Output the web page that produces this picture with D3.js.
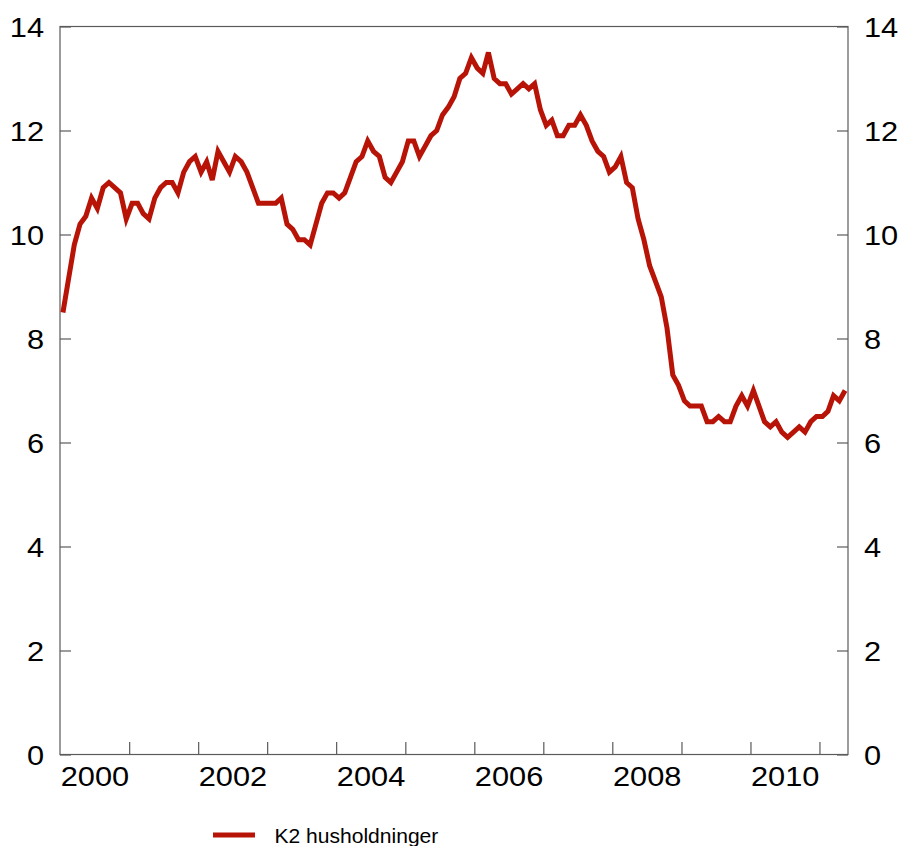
<!DOCTYPE html>
<html><head><meta charset="utf-8">
<script src="https://cdn.jsdelivr.net/npm/d3@7"></script>
<style>body{margin:0;background:#fff}svg{display:block}</style>
</head><body>
<svg id="c" width="901" height="846"></svg>
<script>
// ---- data ----
const seriesName = "K2 husholdninger";
const startMonth = "2000-01";           // first monthly observation
const values = [
  8.5, 9.15, 9.8, 10.2, 10.35, 10.7, 10.5, 10.9, 11.0, 10.9, 10.8, 10.3,          // 2000
  10.6, 10.6, 10.4, 10.3, 10.7, 10.9, 11.0, 11.0, 10.8, 11.2, 11.4, 11.5,         // 2001
  11.2, 11.4, 11.05, 11.6, 11.4, 11.2, 11.5, 11.4, 11.2, 10.9, 10.6, 10.6,        // 2002
  10.6, 10.6, 10.7, 10.2, 10.1, 9.9, 9.9, 9.8, 10.2, 10.6, 10.8, 10.8,            // 2003
  10.7, 10.8, 11.1, 11.4, 11.5, 11.8, 11.6, 11.5, 11.1, 11.0, 11.2, 11.4,         // 2004
  11.8, 11.8, 11.5, 11.7, 11.9, 12.0, 12.3, 12.45, 12.65, 13.0, 13.1, 13.4,       // 2005
  13.2, 13.1, 13.5, 13.0, 12.9, 12.9, 12.7, 12.8, 12.9, 12.8, 12.9, 12.4,         // 2006
  12.1, 12.2, 11.9, 11.9, 12.1, 12.1, 12.3, 12.1, 11.8, 11.6, 11.5, 11.2,         // 2007
  11.3, 11.5, 11.0, 10.9, 10.3, 9.9, 9.4, 9.1, 8.8, 8.2, 7.3, 7.1,                // 2008
  6.8, 6.7, 6.7, 6.7, 6.4, 6.4, 6.5, 6.4, 6.4, 6.7, 6.9, 6.7,                     // 2009
  7.0, 6.7, 6.4, 6.3, 6.4, 6.2, 6.1, 6.2, 6.3, 6.2, 6.4, 6.5,                     // 2010
  6.5, 6.6, 6.9, 6.8, 7.0                                                          // 2011
];
const yTicks = [0, 2, 4, 6, 8, 10, 12, 14];
const xLabelYears = [2000, 2002, 2004, 2006, 2008, 2010];
const xTickYears = [2001, 2002, 2003, 2004, 2005, 2006, 2007, 2008, 2009, 2010, 2011];
const xDomain = ["2000-01", "2011-06"];

// ---- layout / style ----
const L = 60, R = 848, T = 26.5, B = 754.5;
const lineColor = "#b71407";
const axisColor = "#5a5a5a";
const font = "'Liberation Sans', Arial, Helvetica, sans-serif";
const fs = 27, sx = 1.14;

const svg = d3.select("#c");
const parse = d3.timeParse("%Y-%m");
const start = parse(startMonth);
const dates = values.map((v, i) => {
  const m0 = d3.timeMonth.offset(start, i), m1 = d3.timeMonth.offset(start, i + 1);
  return new Date((+m0 + +m1) / 2);
});

const x = d3.scaleTime().domain(xDomain.map(parse)).range([L, R]);
const y = d3.scaleLinear().domain([0, 14]).range([B, T]);

// frame
svg.append("rect").attr("x", L).attr("y", T).attr("width", R - L).attr("height", B - T)
  .attr("fill", "none").attr("stroke", axisColor).attr("stroke-width", 1.2);

function styleAxis(g) {
  g.select(".domain").remove();
  g.selectAll("line").attr("stroke", axisColor).attr("stroke-width", 1.2);
  g.selectAll("text").attr("font-family", font).attr("font-size", fs).attr("fill", "#000");
}

// left axis
const gl = svg.append("g").attr("transform", `translate(${L},0)`)
  .call(d3.axisLeft(y).tickValues(yTicks).tickSize(-11).tickSizeOuter(0).tickPadding(16).tickFormat(d3.format("d")));
styleAxis(gl);
gl.selectAll("text").attr("x", -16 / sx).attr("dy", "0.36em").attr("transform", `scale(${sx},1)`);

// right axis
const gr = svg.append("g").attr("transform", `translate(${R},0)`)
  .call(d3.axisRight(y).tickValues(yTicks).tickSize(-11).tickSizeOuter(0).tickPadding(16).tickFormat(d3.format("d")));
styleAxis(gr);
gr.selectAll("text").attr("x", 16 / sx).attr("dy", "0.36em").attr("transform", `scale(${sx},1)`);

// bottom ticks (year boundaries)
const gb = svg.append("g").attr("transform", `translate(0,${B})`)
  .call(d3.axisBottom(x).tickValues(xTickYears.map(yr => new Date(yr, 0, 1))).tickSize(-12.5).tickSizeOuter(0).tickFormat(""));
styleAxis(gb);

// bottom labels (centred in year)
const gbl = svg.append("g").attr("transform", `translate(0,${B})`)
  .call(d3.axisBottom(x).tickValues(xLabelYears.map(yr => new Date(yr, 6, 1))).tickSize(0).tickSizeOuter(0).tickPadding(12).tickFormat(d3.timeFormat("%Y")));
styleAxis(gbl);
gbl.selectAll("line").remove();
gbl.selectAll("text").attr("transform", `scale(${sx},1)`).attr("x", 0);

// series line
const line = d3.line().x((d, i) => x(dates[i])).y(d => y(d));
svg.append("path").datum(values).attr("d", line)
  .attr("fill", "none").attr("stroke", lineColor).attr("stroke-width", 5)
  .attr("stroke-linejoin", "miter").attr("stroke-miterlimit", 4);

// legend
const lg = svg.append("g");
lg.append("line").attr("x1", 213).attr("x2", 255).attr("y1", 835).attr("y2", 835)
  .attr("stroke", lineColor).attr("stroke-width", 5);
lg.append("g").attr("transform", `translate(274.5,843.3) scale(1.08,1)`)
  .append("text").attr("font-family", font).attr("font-size", 19.5).attr("fill", "#000")
  .text(seriesName);
</script>
</body></html>
